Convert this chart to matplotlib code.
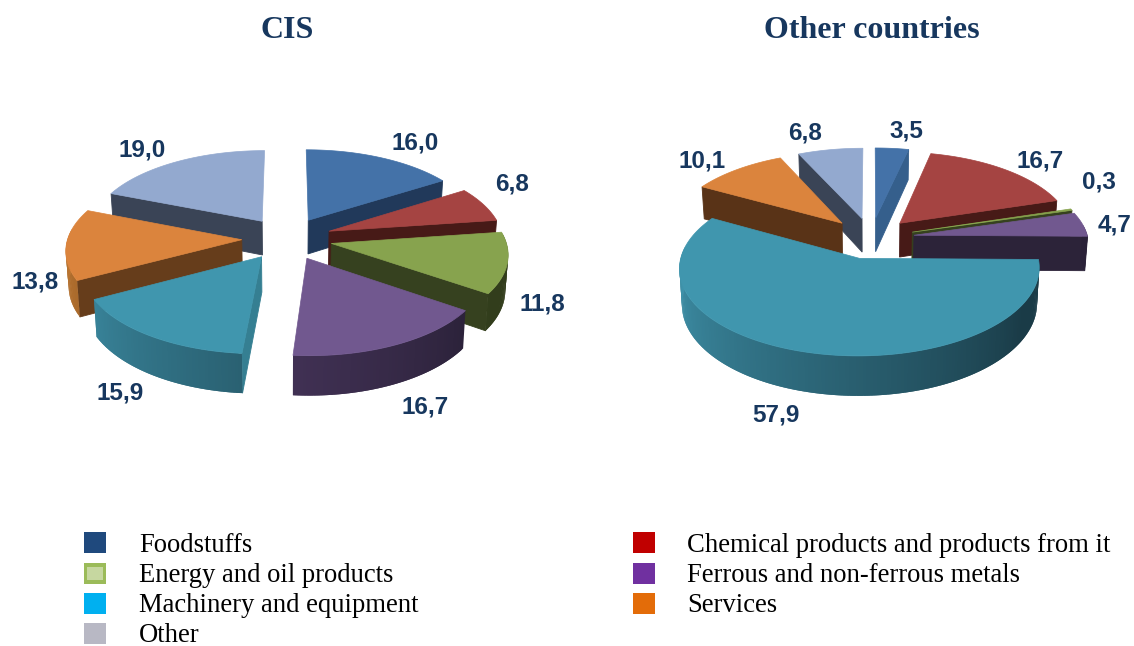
import numpy as np
import matplotlib
matplotlib.use("Agg")
import matplotlib.pyplot as plt
from matplotlib.colors import to_rgb
from matplotlib.patches import Polygon, Rectangle

# ---- data ----
categories = ["Foodstuffs", "Chemical products and products from it",
              "Energy and oil products", "Ferrous and non-ferrous metals",
              "Machinery and equipment", "Services", "Other"]
cis_values = [16.0, 6.8, 11.8, 16.7, 15.9, 13.8, 19.0]
other_values = [3.5, 16.7, 0.3, 4.7, 57.9, 10.1, 6.8]
panel_titles = ["CIS", "Other countries"]

# ---- styles ----
top_colors = ["#4472A8", "#A54442", "#87A34E", "#71588F", "#4096AE", "#DB843D", "#93A9CF"]
rim_light = ["#2F5A8A", "#5A211E", "#4A5A28", "#5E4578", "#3F93AB", "#BC7631", "#4A566C"]
rim_dark = ["#1E3553", "#431815", "#323D1C", "#2A2138", "#1A3B47", "#5A3616", "#384254"]
cis_side = ["#21395A", "#471A17", "#36411F", "#2C2138", "#357F92", "#663D1B", "#3A4456"]
other_side = ["#355F8C", "#471A17", "#36411F", "#2C2339", "#357F92", "#593317", "#3A4456"]
legend_colors = ["#1F497D", "#C00000", "#9BBB59", "#7030A0", "#00B0F0", "#E36C09", "#B8B8C4"]
label_color = "#17375E"

cis_label_xy = [(415, 143), (512, 184), (542, 304), (425, 407), (120, 393), (35, 282), (142, 150)]
other_label_xy = [(906, 131), (1040, 161), (1099, 182), (1115, 225), (776, 415), (702, 161), (805, 133)]

RX, RY, PERSP, DEPTH, BOTTOM_SHRINK = 174.0, 82.0, 0.11, 34.5, 0.987


def draw_pie(ax, values, cx, cy, explode, sides):
    vals = np.asarray(values, float)
    edges = np.concatenate([[0], np.cumsum(vals)]) / vals.sum() * 360.0

    def project(x, y, low=False):
        s = 1.0 / (1.0 + PERSP * y)
        sx = RX * x * s
        sy = -RY * y * s
        if low:
            return cx + sx * BOTTOM_SHRINK, cy + sy + DEPTH * s
        return cx + sx, cy + sy

    order = []
    for i in range(len(vals)):
        mid = np.radians((edges[i] + edges[i + 1]) / 2)
        order.append((explode * np.cos(mid), i))
    order.sort(key=lambda t: -t[0])

    z = 2
    for _, i in order:
        a0, a1 = edges[i], edges[i + 1]
        mid = np.radians((a0 + a1) / 2)
        ox, oy = explode * np.sin(mid), explode * np.cos(mid)
        n = max(2, int((a1 - a0) / 1.0) + 2)
        angs = np.linspace(a0, a1, n)
        xs = ox + np.sin(np.radians(angs))
        ys = oy + np.cos(np.radians(angs))
        kw = dict(lw=0.6, zorder=z)
        # radial faces that look towards the viewer
        visible = (np.sin(np.radians(a0)) < -1e-6, np.sin(np.radians(a1)) > 1e-6)
        for k, show in zip((0, -1), visible):
            if show:
                quad = [project(ox, oy), project(xs[k], ys[k]),
                        project(xs[k], ys[k], True), project(ox, oy, True)]
                ax.add_patch(Polygon(quad, closed=True, fc=sides[i], ec=sides[i], **kw))
        # outer rim, shaded along its arc
        lo, hi = np.array(to_rgb(rim_light[i])), np.array(to_rgb(rim_dark[i]))
        for j in range(n - 1):
            am = (angs[j] + angs[j + 1]) / 2
            if np.cos(np.radians(am)) > 0.12:
                continue
            t = np.clip((270 - am) / 150, 0, 1)
            c = tuple(lo + (hi - lo) * t)
            jn = min(j + 2, n - 1)
            quad = [project(xs[j], ys[j]), project(xs[jn], ys[jn]),
                    project(xs[jn], ys[jn], True), project(xs[j], ys[j], True)]
            ax.add_patch(Polygon(quad, closed=True, fc=c, ec="none", lw=0,
                                 zorder=z, snap=False))
        # top face
        pts = [project(ox, oy)] + [project(a, b) for a, b in zip(xs, ys)]
        ax.add_patch(Polygon(pts, closed=True, fc=top_colors[i], ec=top_colors[i],
                             lw=0.5, zorder=z + 0.5))
        z += 1


fig = plt.figure(figsize=(11.34, 6.46), dpi=100, facecolor="white")
ax = fig.add_axes([0, 0, 1, 1])
ax.set_xlim(0, 1134)
ax.set_ylim(646, 0)
ax.axis("off")

draw_pie(ax, cis_values, 287, 238.5, 0.26, cis_side)
draw_pie(ax, other_values, 871, 238, 0.25, other_side)

for vals, xy in ((cis_values, cis_label_xy), (other_values, other_label_xy)):
    for v, (x, y) in zip(vals, xy):
        ax.text(x, y, f"{v:.1f}".replace(".", ","), ha="center", va="center",
                family="Liberation Sans", weight="bold", fontsize=17.5,
                color=label_color, zorder=50)

for title, x in zip(panel_titles, (287, 872)):
    ax.text(x, 31, title, ha="center", va="center", family="Liberation Serif",
            weight="bold", fontsize=23, color=label_color)

# legend
rows = [542, 573, 603, 633]
slots = [(84, 139, 0), (633, 687, 0), (84, 139, 1), (633, 687, 1),
         (84, 139, 2), (633, 687, 2), (84, 139, 3)]
for name, col, (bx, tx, r) in zip(categories, legend_colors, slots):
    y = rows[r]
    ax.add_patch(Rectangle((bx, y - 10.5), 22, 21.5, fc=col, ec="none"))
    if name.startswith("Energy"):
        ax.add_patch(Rectangle((bx + 3, y - 6), 16, 12.5, fc="#C6D7A0", ec="none"))
    ax.text(tx, y, name, ha="left", va="center_baseline", family="Liberation Serif",
            fontsize=19.2, color="black")

fig.savefig("out.png", dpi=100, facecolor="white")
